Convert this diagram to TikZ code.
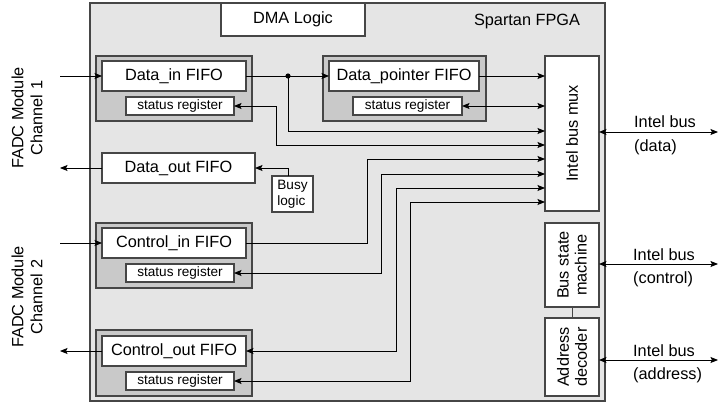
\documentclass[tikz,border=0pt]{standalone}
\usepackage{fontspec}
\setmainfont{Liberation Sans}
\usetikzlibrary{arrows.meta}
\definecolor{fpgabg}{RGB}{229,229,229}
\definecolor{grpbg}{RGB}{201,201,201}
\definecolor{edgec}{RGB}{70,70,70}
\begin{document}
\begin{tikzpicture}[x=1pt,y=-1pt,
  blk/.style={draw=edgec, line width=1.1pt, inner sep=0pt, outer sep=0pt, anchor=north west},
  wbox/.style={blk, fill=white},
  grp/.style={blk, fill=grpbg},
  big/.style={font=\fontsize{16.3}{19}\selectfont},
  small/.style={font=\fontsize{13.6}{16}\selectfont},
  wire/.style={draw=black, line width=0.9pt},
  >={Stealth[length=7.5pt,width=6pt,inset=1.5pt]},
  ]
\useasboundingbox (0,0) rectangle (718,404);
% FPGA frame
\node[blk, fill=fpgabg, line width=1.4pt, minimum width=515pt, minimum height=398pt] (fpga) at (90,3) {};
\node[wbox, minimum width=144pt, minimum height=33pt, big] (dma) at (221,3) {DMA Logic};
\node[big] (spartan) at (527,22) {Spartan FPGA};
% Data_in group
\node[grp, minimum width=156pt, minimum height=65pt] (gdin) at (96,56) {};
\node[wbox, minimum width=144pt, minimum height=30pt, big] (din) at (102,61) {Data\_in FIFO};
\node[wbox, minimum width=108pt, minimum height=18pt, small] (sdin) at (126,97) {status register};
% Data_pointer group
\node[grp, minimum width=163pt, minimum height=65pt] (gdp) at (323,56) {};
\node[wbox, minimum width=150pt, minimum height=30pt, big] (dp) at (329,61) {Data\_pointer FIFO};
\node[wbox, minimum width=109pt, minimum height=18pt, small] (sdp) at (353,97) {status register};
% Data_out and busy
\node[wbox, minimum width=153pt, minimum height=30pt, big] (dout) at (102,153) {Data\_out FIFO};
\node[wbox, minimum width=41pt, minimum height=36pt, small, align=left] (busy) at (272,176) {Busy\\logic};
% Control_in group
\node[grp, minimum width=156pt, minimum height=65pt] (gcin) at (96,223) {};
\node[wbox, minimum width=144pt, minimum height=30pt, big] (cin) at (102,228) {Control\_in FIFO};
\node[wbox, minimum width=108pt, minimum height=18pt, small] (scin) at (126,264) {status register};
% Control_out group
\node[grp, minimum width=156pt, minimum height=66pt] (gcout) at (96,330) {};
\node[wbox, minimum width=144pt, minimum height=30pt, big] (cout) at (102,336) {Control\_out FIFO};
\node[wbox, minimum width=108pt, minimum height=18pt, small] (scout) at (126,372) {status register};
% right blocks
\node[wbox, minimum width=54pt, minimum height=155pt] (mux) at (545,56) {};
\node[big, rotate=90] (muxt) at (mux.center) {Intel bus mux};
\node[wbox, minimum width=54pt, minimum height=84pt] (bsm) at (545,223) {};
\node[rotate=90, align=center, font=\fontsize{16.3}{18}\selectfont] (bsmt) at (bsm.center) {Bus state\\machine};
\node[wbox, minimum width=54pt, minimum height=78pt] (adec) at (545,318) {};
\node[rotate=90, align=center, font=\fontsize{16.3}{18}\selectfont] (adect) at (adec.center) {Address\\decoder};
\draw[edgec, line width=1pt] (bsm.south) -- (adec.north);
% left labels
\node[rotate=90, align=center, font=\fontsize{16.3}{19}\selectfont] (ch1) at (27,118) {FADC Module\\Channel 1};
\node[rotate=90, align=center, font=\fontsize{16.3}{19}\selectfont] (ch2) at (27,297) {FADC Module\\Channel 2};
% free ends
\coordinate (i1) at (60,76);
\coordinate (o1) at (60,168);
\coordinate (i2) at (60,243);
\coordinate (o2) at (60,351);
\coordinate (r1) at (718,132);
\coordinate (r2) at (718,264);
\coordinate (r3) at (718,360);
% right labels
\node[big, anchor=base west, inner sep=0pt] (l1a) at (634,128) {Intel bus};
\node[big, anchor=base west, inner sep=0pt] (l1b) at (634,151) {(data)};
\node[big, anchor=base west, inner sep=0pt] (l2a) at (633,260) {Intel bus};
\node[big, anchor=base west, inner sep=0pt] (l2b) at (633,283) {(control)};
\node[big, anchor=base west, inner sep=0pt] (l3a) at (633,356) {Intel bus};
\node[big, anchor=base west, inner sep=0pt] (l3b) at (633,379) {(address)};
\draw[wire,<->] (mux.east |- r1) -- (r1);
\draw[wire,<->] (bsm.east |- r2) -- (r2);
\draw[wire,<->] (adec.east |- r3) -- (r3);
% external
\draw[wire,->] (i1) -- (din.west);
\draw[wire,->] (dout.west) -- (o1);
\draw[wire,->] (i2) -- (cin.west);
\draw[wire,->] (cout.west) -- (o2);
% internal wires
\coordinate (j) at (288,76);
\draw[wire] (din.east) -- (j);
\draw[wire,->] (j) -- (dp.west);
\fill (j) circle (2.6);
\draw[wire,->] (j) |- (mux.west |- 0,131);
\draw[wire,->] (dp.east) -- (mux.west |- dp.east);
\draw[wire,<->] (sdp.east) -- (mux.west |- sdp.east);
\draw[wire,<->] (sdin.east) -- ++(42,0) |- (mux.west |- 0,145);
\draw[wire,->] (busy.north west) ++(16,0) |- (dout.east);
\draw[wire,->] (cin.east) -| (367,159) -- (mux.west |- 0,159);
\draw[wire,<->] (scin.east) -| (381,174) -- (mux.west |- 0,174);
\draw[wire,<->] (cout.east) -| (396,188) -- (mux.west |- 0,188);
\draw[wire,<->] (scout.east) -| (410,202) -- (mux.west |- 0,202);
\end{tikzpicture}
\end{document}
